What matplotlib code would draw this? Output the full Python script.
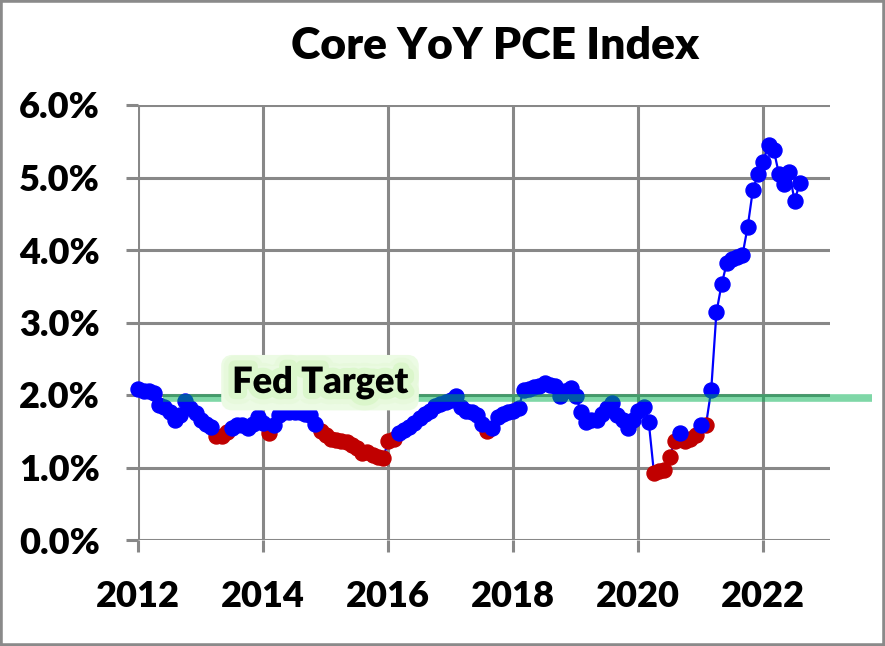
import matplotlib
matplotlib.use("Agg")
import matplotlib.pyplot as plt
import matplotlib.patheffects as pe
from matplotlib.patches import Rectangle
import numpy as np

plt.rcParams['font.family'] = ['Lato', 'DejaVu Sans']
plt.rcParams['font.weight'] = 'heavy'
W = 'heavy'

# ---------------- data ----------------
start_year = 2012
core_pce_yoy = [
    # 2012
    2.08, 2.05, 2.06, 2.03, 1.86, 1.83, 1.76, 1.66, 1.72, 1.92, 1.82, 1.75,
    # 2013
    1.65, 1.60, 1.56, 1.44, 1.43, 1.49, 1.55, 1.59, 1.58, 1.54, 1.60, 1.70,
    # 2014
    1.62, 1.47, 1.59, 1.72, 1.76, 1.76, 1.77, 1.76, 1.74, 1.72, 1.60, 1.50,
    # 2015
    1.45, 1.40, 1.38, 1.37, 1.35, 1.31, 1.27, 1.20, 1.22, 1.17, 1.15, 1.13,
    # 2016
    1.36, 1.40, 1.47, 1.52, 1.56, 1.62, 1.68, 1.74, 1.78, 1.85, 1.87, 1.91,
    # 2017
    1.93, 1.98, 1.84, 1.78, 1.77, 1.73, 1.60, 1.50, 1.54, 1.70, 1.74, 1.76,
    # 2018
    1.78, 1.82, 2.07, 2.08, 2.11, 2.13, 2.16, 2.14, 2.12, 1.98, 2.06, 2.10,
    # 2019
    1.98, 1.77, 1.63, 1.66, 1.65, 1.74, 1.82, 1.89, 1.72, 1.66, 1.54, 1.65,
    # 2020
    1.78, 1.84, 1.63, 0.93, 0.95, 0.97, 1.15, 1.36, 1.47, 1.36, 1.40, 1.45,
    # 2021
    1.59, 1.59, 2.07, 3.14, 3.53, 3.82, 3.87, 3.90, 3.93, 4.32, 4.83, 5.05,
    # 2022
    5.22, 5.45, 5.38, 5.05, 4.91, 5.07, 4.68, 4.92,
]
red_months = [
    "2013-04", "2013-05", "2013-06",
    "2014-02", "2014-12",
    "2015-01", "2015-02", "2015-03", "2015-04", "2015-05", "2015-06",
    "2015-07", "2015-08", "2015-09", "2015-10", "2015-11", "2015-12",
    "2016-01", "2016-02",
    "2017-08",
    "2020-04", "2020-05", "2020-06", "2020-07", "2020-08",
    "2020-10", "2020-11", "2020-12",
    "2021-02",
]
fed_target = 2.0
year_ticks = [2012, 2014, 2016, 2018, 2020, 2022]
pct_ticks = [0, 1, 2, 3, 4, 5, 6]
title = "Core YoY PCE Index"
target_label = "Fed Target"

# ---------------- derived ----------------
n = len(core_pce_yoy)
months = [f"{start_year + i // 12}-{i % 12 + 1:02d}" for i in range(n)]
x = np.array([start_year + i / 12 for i in range(n)])
y = np.array(core_pce_yoy)
is_red = np.array([m in red_months for m in months])

# ---------------- figure ----------------
fig = plt.figure(figsize=(8.85, 6.46), dpi=100)
ax = fig.add_axes([138.3 / 885, 1 - 540 / 646, (830 - 138.3) / 885, (540 - 105) / 646])

grid_c = '#888888'
ax.set_xlim(2012, 2012 + (830 - 138.3) / 62.5)
ax.set_ylim(0, 6)
ax.set_xticks(year_ticks)
ax.set_yticks(pct_ticks)
ax.set_yticklabels([f"{v:.1f}%" for v in pct_ticks])
ax.set_xticklabels([str(v) for v in year_ticks])
ax.grid(True, color=grid_c, linewidth=2.2, zorder=0)
ax.set_axisbelow(True)
for s in ax.spines.values():
    s.set_visible(False)
ax.tick_params(axis='both', direction='out', length=8.6, width=2.2, color=grid_c,
               labelsize=26)
ax.tick_params(axis='y', pad=19)
ax.tick_params(axis='x', pad=20)
for lab in ax.get_xticklabels() + ax.get_yticklabels():
    lab.set_fontweight(W)

# data
ax.plot(x, y, color='#0000FF', linewidth=1.6, zorder=2, clip_on=False)
ax.plot(x[is_red], y[is_red], linestyle='none', marker='o', markersize=10.8,
        markerfacecolor='#C00000', markeredgecolor='#C00000', zorder=3, clip_on=False)
ax.plot(x[~is_red], y[~is_red], linestyle='none', marker='o', markersize=10.8,
        markerfacecolor='#0000FF', markeredgecolor='#0000FF', zorder=4, clip_on=False)

# Fed target line (extends beyond the plot)
x_line_end = 2012 + (872 - 138.3) / 62.5
ax.plot([2012.4, x_line_end], [fed_target - 0.04, fed_target - 0.04], color='#00B050',
        alpha=0.5, linewidth=5.5, solid_capstyle='butt', zorder=5, clip_on=False)

txt = ax.text(2012 + (320 - 138.3) / 62.5, 2.17, target_label, fontsize=26,
              fontweight=W, ha='center', va='center', color='black', zorder=7,
              bbox=dict(boxstyle='round,pad=0.15', facecolor='#f5fdf1',
                        edgecolor='#ecfbe4', linewidth=8))
txt.set_path_effects([pe.Stroke(linewidth=16, foreground='#e4f9d8', alpha=0.6),
                      pe.Stroke(linewidth=9, foreground='#d6f6c4', alpha=0.7),
                      pe.Normal()])

fig.text(495 / 885, 1 - 46 / 646, title, fontsize=32, fontweight=W,
         ha='center', va='center')

fig.patches.append(Rectangle((0, 0), 1, 1, transform=fig.transFigure, fill=False,
                             edgecolor='#8a8a8a', linewidth=4, zorder=10))

fig.savefig('out.png', dpi=100)
